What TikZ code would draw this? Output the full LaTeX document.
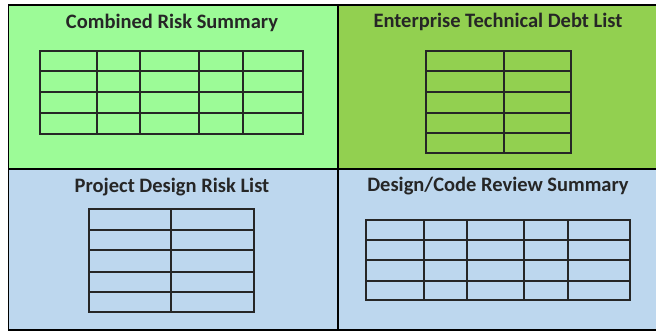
\documentclass[tikz,border=0pt]{standalone}
\usepackage{fontspec}
\setmainfont{Carlito}
\usetikzlibrary{positioning}

\definecolor{riskgreen}{HTML}{9CFB97}
\definecolor{debtgreen}{HTML}{92D050}
\definecolor{reviewblue}{HTML}{BDD7EE}

\begin{document}
\begin{tikzpicture}[
    x=1pt, y=-1pt,
    panel/.style={rectangle, draw=black, line width=1.6pt, inner sep=0pt, anchor=north west},
    heading/.style={font=\fontsize{20.5}{23}\selectfont\bfseries, text=black!85, inner sep=1pt},
    grid/.style={draw=black!85, line width=1.25pt}
]
\useasboundingbox (0,0) rectangle (656,331);

% quadrants
\node (risksum)  [panel, fill=riskgreen, minimum width=329.5pt, minimum height=163.5pt] at (7.5,4.5) {};
\node (techdebt) [panel, fill=debtgreen, minimum width=322pt, minimum height=163.5pt] at (337,4.5) {};
\node (designrisk) [panel, fill=reviewblue, minimum width=329.5pt, minimum height=161pt] at (7.5,168) {};
\node (codereview) [panel, fill=reviewblue, minimum width=322pt, minimum height=161pt] at (337,168) {};

% titles
\node (risksum_title)    [heading] at (172,22.5)  {Combined Risk Summary};
\node (techdebt_title)   [heading] at (498,22)    {Enterprise Technical Debt List};
\node (designrisk_title) [heading] at (172,187)   {Project Design Risk List};
\node (codereview_title) [heading] at (498,186.5) {Design/Code Review Summary};

% combined risk summary table
\draw [grid] (40,51) rectangle (303,134);
\foreach \x in {97,140,199,243} \draw [grid] (\x,51) -- (\x,134);
\foreach \y in {71,92,113} \draw [grid] (40,\y) -- (303,\y);

% technical debt table
\draw [grid] (426,51) rectangle (571,153);
\draw [grid] (504,51) -- (504,153);
\foreach \y in {71,92,113,133} \draw [grid] (426,\y) -- (571,\y);

% design risk table
\draw [grid] (89,209) rectangle (254,312);
\draw [grid] (171,209) -- (171,312);
\foreach \y in {230,250,272,292} \draw [grid] (89,\y) -- (254,\y);

% review summary table
\draw [grid] (366,220) rectangle (630,300);
\foreach \x in {424,467,524,568} \draw [grid] (\x,220) -- (\x,300);
\foreach \y in {240,260,281} \draw [grid] (366,\y) -- (630,\y);
\end{tikzpicture}
\end{document}
